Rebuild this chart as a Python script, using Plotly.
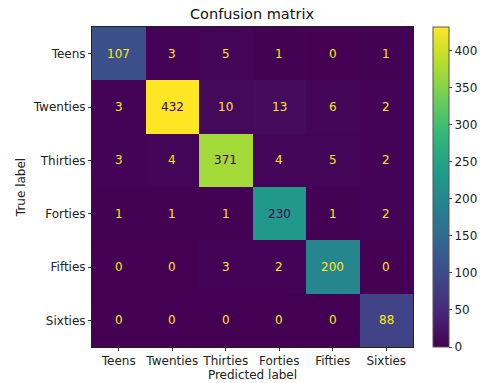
import plotly.graph_objects as go

labels = ["Teens", "Twenties", "Thirties", "Forties", "Fifties", "Sixties"]
counts = [
    [107, 3, 5, 1, 0, 1],
    [3, 432, 10, 13, 6, 2],
    [3, 4, 371, 4, 5, 2],
    [1, 1, 1, 230, 1, 2],
    [0, 0, 3, 2, 200, 0],
    [0, 0, 0, 0, 0, 88],
]

zmin = 0
zmax = max(max(r) for r in counts)
thresh = (zmin + zmax) / 2.0
dark = "#440154"
light = "#fde725"

fig = go.Figure(
    go.Heatmap(
        z=counts,
        x=labels,
        y=labels,
        colorscale="Viridis",
        zmin=zmin,
        zmax=zmax,
        showscale=True,
        colorbar=dict(
            x=(433 - 92) / 321,
            xanchor="left",
            y=0.5,
            yanchor="middle",
            len=1.0,
            lenmode="fraction",
            thickness=16,
            thicknessmode="pixels",
            outlinewidth=1,
            outlinecolor="#555",
            tickvals=[0, 50, 100, 150, 200, 250, 300, 350, 400],
            ticks="outside",
            ticklen=3,
            tickfont=dict(size=12, color="#222"),
            xpad=0,
            ypad=0,
        ),
        hoverinfo="skip",
    )
)

for i, row in enumerate(counts):
    for j, v in enumerate(row):
        fig.add_annotation(
            x=labels[j], y=labels[i], text=str(v), showarrow=False,
            font=dict(size=12, color=dark if v > thresh else light),
        )

fig.update_layout(
    width=487,
    height=383,
    margin=dict(l=92, r=74, t=27, b=36, autoexpand=False),
    paper_bgcolor="white",
    plot_bgcolor="white",
    font=dict(family="DejaVu Sans", size=12, color="#222"),
    title=dict(text="Confusion matrix", x=(92 + 160) / 487, xanchor="center",
               y=1 - 14 / 383, yanchor="middle", font=dict(size=14.5, color="#111")),
)
fig.update_xaxes(
    title=dict(text="Predicted label", standoff=1, font=dict(size=12)),
    automargin=False,
    ticks="outside", ticklen=3, tickcolor="#333",
    showline=True, linecolor="#222", linewidth=1, mirror=True,
    showgrid=False, zeroline=False, tickfont=dict(size=12),
)
fig.update_yaxes(
    title=dict(text="True label", standoff=4, font=dict(size=12)),
    automargin=False,
    autorange="reversed",
    ticks="outside", ticklen=3, tickcolor="#333",
    showline=True, linecolor="#222", linewidth=1, mirror=True,
    showgrid=False, zeroline=False, tickfont=dict(size=12),
)

fig.write_html("out.html")
